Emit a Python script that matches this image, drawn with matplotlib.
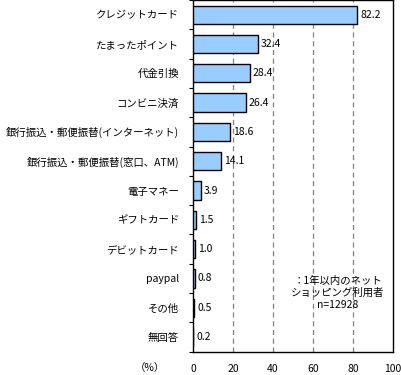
import matplotlib
matplotlib.use("Agg")
import matplotlib.pyplot as plt
import numpy as np

plt.rcParams['font.family'] = ['Noto Sans CJK JP', 'DejaVu Sans']

categories = ["クレジットカード", "たまったポイント", "代金引換", "コンビニ決済",
              "銀行振込・郵便振替(インターネット)", "銀行振込・郵便振替(窓口、ATM)",
              "電子マネー", "ギフトカード", "デビットカード", "paypal", "その他", "無回答"]
values = [82.2, 32.4, 28.4, 26.4, 18.6, 14.1, 3.9, 1.5, 1.0, 0.8, 0.5, 0.2]
xticks = [0, 20, 40, 60, 80, 100]
note = "：1年以内のネット\nショッピング利用者\nn=12928"

fig = plt.figure(figsize=(4.01, 3.75), dpi=100)
ax = fig.add_axes([193 / 401, 23.3 / 375, 200 / 401, 351.7 / 375])

y = np.arange(len(categories))
ax.barh(y, values, height=0.62, color="#99CCFF", edgecolor="black", linewidth=1.0, zorder=3)
for yi, v in zip(y, values):
    ax.text(v + 1.5, yi, f"{v:.1f}", va='center', ha='left', fontsize=7.5, zorder=4)

for gx in xticks[1:-1]:
    ax.axvline(gx, color="#808080", linestyle=(0, (4, 3)), linewidth=0.9, zorder=1)

ax.set_xlim(0, 100)
ax.set_ylim(len(categories) - 0.5, -0.5)

ax.set_yticks(y)
ax.set_yticklabels(categories, fontsize=7.5)
ax.set_yticks(np.arange(-0.5, len(categories), 1), minor=True)
ax.tick_params(axis='y', which='major', length=0, pad=10)
ax.tick_params(axis='y', which='minor', length=3, width=0.8, direction='out')

ax.set_xticks(xticks)
ax.set_xticklabels([str(t) for t in xticks], fontsize=7.5)
ax.tick_params(axis='x', which='major', length=0, pad=9, top=True)

for sp in ax.spines.values():
    sp.set_linewidth(1.0)

fig.text(150 / 401, 1 - 368 / 375, "（%）", ha='center', va='center', fontsize=7.5)
ax.text(72.5, 9.5, note, ha='center', va='center', fontsize=7.5, linespacing=1.25)

fig.savefig("out.png", dpi=100)
